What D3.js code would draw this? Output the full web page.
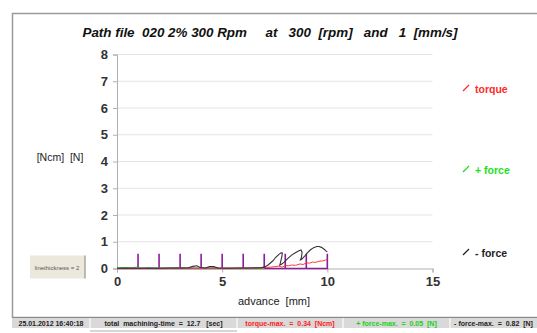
<!DOCTYPE html>
<html>
<head>
<meta charset="utf-8">
<script src="https://cdn.jsdelivr.net/npm/d3@7"></script>
<style>
  html, body { margin: 0; padding: 0; background: #fff; }
  svg { display: block; font-family: "Liberation Sans", Arial, Helvetica, sans-serif; }
</style>
</head>
<body>
<svg id="chart" width="537" height="333"></svg>
<script>
// Axis ticks
const xTicks = [0, 5, 10, 15];
const yTicks = [0, 1, 2, 3, 4, 5, 6, 7, 8];

// Path marks (purple): one spike per millimetre of advance
const markAdvance = [1, 2, 3, 4, 5, 6, 7, 8, 9, 10];
const markLevel = 0.55;

// - force [N] against advance [mm]
const forceNegX = [0, 0.5, 1, 1.5, 2, 2.5, 3, 3.4, 3.6, 3.8, 3.95, 4.2, 4.4, 4.6, 4.8, 5.2, 5.8, 6.3, 6.8,
  7.0, 7.2, 7.4, 7.55, 7.7, 7.8, 7.86, 7.84, 7.78, 7.74, 7.82, 7.95, 8.1, 8.3, 8.5, 8.65, 8.75, 8.8, 8.77, 8.72, 8.78,
  8.9, 9.05, 9.2, 9.35, 9.5, 9.6, 9.72, 9.85, 9.95, 10.0];
const forceNegY = [0.01, 0.02, 0.01, 0.02, 0.01, 0.02, 0.02, 0.03, 0.08, 0.10, 0.04, 0.02, 0.07, 0.07, 0.02, 0.01, 0.02, 0.02, 0.03,
  0.05, 0.14, 0.28, 0.42, 0.53, 0.59, 0.58, 0.45, 0.25, 0.13, 0.16, 0.24, 0.36, 0.50, 0.60, 0.66, 0.69, 0.60, 0.42, 0.32, 0.34,
  0.44, 0.58, 0.70, 0.78, 0.82, 0.82, 0.79, 0.72, 0.65, 0.62];

// torque [Ncm] against advance [mm]
const torqueX = [0, 0.8, 1.6, 2.4, 3.2, 4.0, 4.8, 5.6, 6.4, 6.9, 7.1, 7.3, 7.5, 7.7, 7.85, 8.0, 8.15, 8.3, 8.5, 8.7,
  8.85, 9.0, 9.15, 9.3, 9.45, 9.6, 9.75, 9.9, 10.0];
const torqueY = [0.0, 0.01, 0.0, 0.01, 0.02, 0.01, 0.02, 0.01, 0.02, 0.02, 0.04, 0.05, 0.07, 0.09, 0.05, 0.11, 0.10, 0.13, 0.12, 0.17,
  0.15, 0.21, 0.20, 0.24, 0.23, 0.27, 0.28, 0.31, 0.34];

// + force [N] against advance [mm]
const forcePosX = [0, 0.3, 0.6, 0.9, 1.2, 1.8, 2.5, 3.2, 4.0, 5.0, 6.0, 7.0];
const forcePosY = [0.02, 0.04, 0.01, 0.05, 0.01, 0.02, 0.01, 0.02, 0.01, 0.01, 0.01, 0.0];

// Legend and status bar
const legendItems = [
  { label: "torque", color: "#ff2a2a" },
  { label: "+ force", color: "#1ee01e" },
  { label: "- force", color: "#222222" }
];
const statusCells = [
  { text: "25.01.2012 16:40:18", color: "#222" },
  { text: "total  machining-time  =  12.7   [sec]", color: "#222" },
  { text: "torque-max.  =  0.34  [Ncm]", color: "#ff2020" },
  { text: "+ force-max.  =  0.05  [N]", color: "#18d018" },
  { text: "- force-max.  =  0.82  [N]", color: "#222" }
];

const svg = d3.select("#chart");

// Outer frame
svg.append("rect").attr("x", 12.5).attr("y", 13.5).attr("width", 540).attr("height", 304)
  .attr("fill", "#fff").attr("stroke", "#9a9a9a").attr("stroke-width", 1.5);

const x = d3.scaleLinear().domain([0, 15]).range([117, 432.5]);
const y = d3.scaleLinear().domain([0, 8]).range([268.5, 54.5]);

// Title
svg.append("text").attr("x", 270).attr("y", 37).attr("text-anchor", "middle")
  .attr("font-size", 13.4).attr("font-weight", "bold").attr("font-style", "italic").attr("fill", "#111")
  .attr("xml:space", "preserve")
  .text("Path file  020 2% 300 Rpm     at   300  [rpm]   and   1  [mm/s]");

// Gridlines
svg.append("g").selectAll("line").data(yTicks.filter(d => d > 0)).join("line")
  .attr("x1", x(0)).attr("x2", x(15)).attr("y1", d => y(d)).attr("y2", d => y(d))
  .attr("stroke", "#e4e4e4").attr("stroke-width", 1);

// Y axis
const yAxis = svg.append("g").attr("transform", `translate(${x(0)},0)`)
  .call(d3.axisLeft(y).tickValues(yTicks).tickSize(4).tickPadding(5).tickFormat(d3.format("d")));
yAxis.select(".domain").attr("stroke", "#b0b0b0");
yAxis.selectAll(".tick line").attr("stroke", "#b0b0b0");
yAxis.selectAll(".tick text").attr("font-size", 13).attr("font-weight", "bold").attr("fill", "#333")
  .attr("font-family", "Liberation Sans, Arial, sans-serif");

// X axis
const xAxis = svg.append("g").attr("transform", `translate(0,${y(0)})`)
  .call(d3.axisBottom(x).tickValues(xTicks).tickSize(4).tickPadding(4).tickFormat(d3.format("d")));
xAxis.select(".domain").attr("stroke", "#b0b0b0");
xAxis.selectAll(".tick line").attr("stroke", "#b0b0b0");
xAxis.selectAll(".tick text").attr("font-size", 13).attr("font-weight", "bold").attr("fill", "#333")
  .attr("font-family", "Liberation Sans, Arial, sans-serif");

// Axis titles
svg.append("text").attr("x", 274).attr("y", 305).attr("text-anchor", "middle")
  .attr("font-size", 11).attr("fill", "#222").attr("xml:space", "preserve").text("advance  [mm]");
svg.append("text").attr("x", 60).attr("y", 161).attr("text-anchor", "middle")
  .attr("font-size", 10.5).attr("fill", "#222").attr("xml:space", "preserve").text("[Ncm]  [N]");

// Line thickness button
svg.append("rect").attr("x", 30).attr("y", 255.5).attr("width", 55).attr("height", 23)
  .attr("fill", "#ece8dc").attr("stroke", "none");
svg.append("line").attr("x1", 85).attr("x2", 85).attr("y1", 255.5).attr("y2", 278.5)
  .attr("stroke", "#a8a8a0").attr("stroke-width", 1.5);
svg.append("text").attr("x", 57).attr("y", 269.5).attr("text-anchor", "middle")
  .attr("font-size", 6).attr("fill", "#555").text("linethickness = 2");

const line = d3.line().x(d => x(d[0])).y(d => y(d[1]));

// Path marks
const markPts = [[0, 0]];
markAdvance.forEach(a => { markPts.push([a, 0], [a, markLevel], [a, 0]); });
svg.append("path").datum(markPts).attr("d", line)
  .attr("fill", "none").attr("stroke", "#8c1c9c").attr("stroke-width", 1.6);

// Series
svg.append("path").datum(d3.zip(forcePosX, forcePosY)).attr("d", line)
  .attr("fill", "none").attr("stroke", "#1ee01e").attr("stroke-width", 1);
svg.append("path").datum(d3.zip(torqueX, torqueY)).attr("d", line)
  .attr("fill", "none").attr("stroke", "#ff3a3a").attr("stroke-width", 1);
svg.append("path").datum(d3.zip(forceNegX, forceNegY)).attr("d", line)
  .attr("fill", "none").attr("stroke", "#333").attr("stroke-width", 1.1);

// Legend
const legendY = [89, 170, 253];
const lg = svg.append("g").selectAll("g").data(legendItems).join("g")
  .attr("transform", (d, i) => `translate(463,${legendY[i]})`);
lg.append("line").attr("x1", 0).attr("y1", 2).attr("x2", 6).attr("y2", -4)
  .attr("stroke", d => d.color).attr("stroke-width", 1.2);
lg.append("text").attr("x", 12).attr("y", 3.5).attr("font-size", 10.5).attr("font-weight", "bold")
  .attr("fill", d => d.color).text(d => d.label);

// Status bar
const cellEdges = [12, 90, 237, 343, 450, 537];
svg.append("rect").attr("x", 12).attr("y", 317).attr("width", 525).attr("height", 11)
  .attr("fill", "#d9d9d9");
svg.append("line").attr("x1", 12).attr("x2", 537).attr("y1", 317.5).attr("y2", 317.5)
  .attr("stroke", "#8a8a8a").attr("stroke-width", 1);
svg.append("line").attr("x1", 90).attr("x2", 237).attr("y1", 331).attr("y2", 331)
  .attr("stroke", "#c8c8c8").attr("stroke-width", 1.5);
svg.append("g").selectAll("line").data(cellEdges.slice(1, 5)).join("line")
  .attr("x1", d => d).attr("x2", d => d).attr("y1", 318).attr("y2", 328)
  .attr("stroke", "#f4f4f4").attr("stroke-width", 1.5);
svg.append("g").selectAll("text").data(statusCells).join("text")
  .attr("x", (d, i) => (cellEdges[i] + cellEdges[i + 1]) / 2).attr("y", 325.5)
  .attr("text-anchor", "middle").attr("font-size", 7).attr("font-weight", "bold")
  .attr("xml:space", "preserve").attr("fill", d => d.color).text(d => d.text);
</script>
</body>
</html>
